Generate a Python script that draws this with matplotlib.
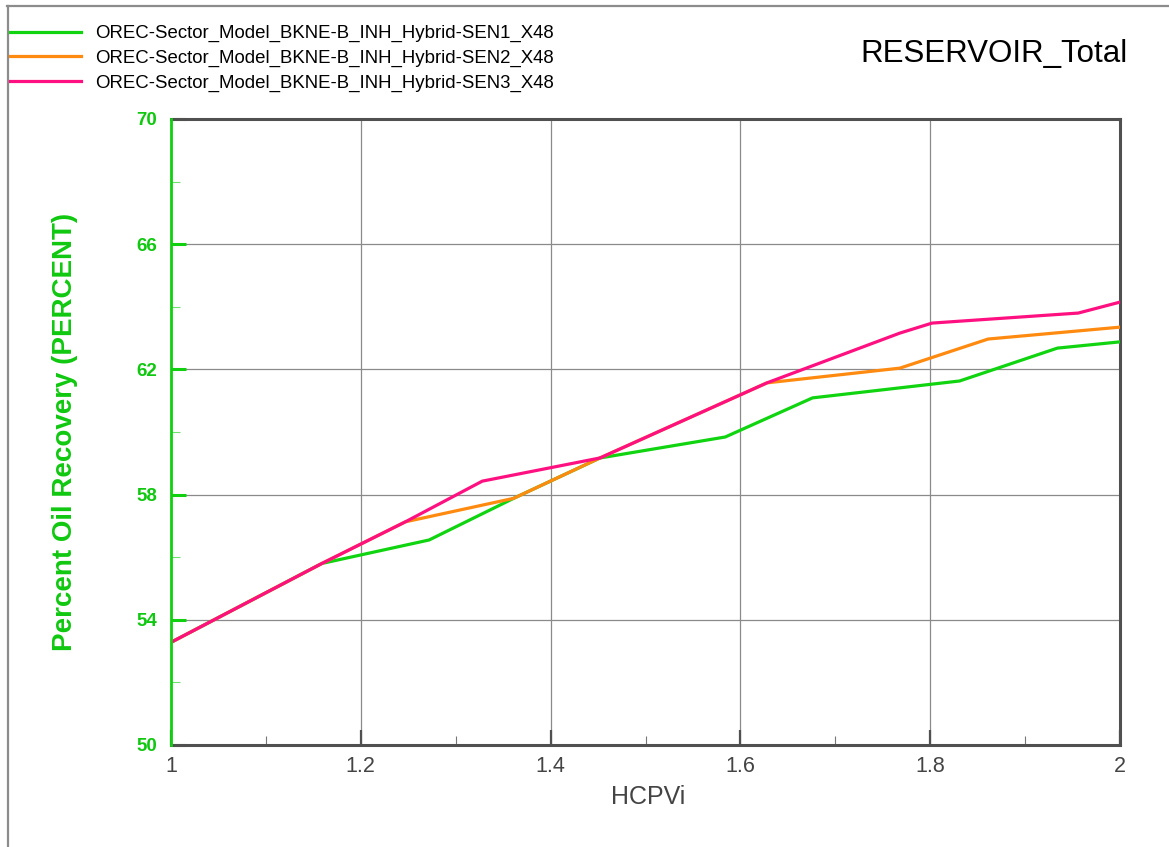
import matplotlib
matplotlib.use("Agg")
import matplotlib.pyplot as plt
from matplotlib.lines import Line2D
from matplotlib.ticker import MultipleLocator

plt.rcParams['font.family'] = ['Liberation Sans', 'DejaVu Sans']

# Recovery curves (HCPVi vs percent oil recovery)
sen1_x = [1.0, 1.159, 1.272, 1.361, 1.452, 1.584, 1.676, 1.831, 1.934, 2.0]
sen1_y = [53.28, 55.80, 56.55, 57.88, 59.17, 59.84, 61.09, 61.63, 62.68, 62.88]

sen2_x = [1.0, 1.159, 1.247, 1.361, 1.452, 1.628, 1.768, 1.861, 2.0]
sen2_y = [53.28, 55.80, 57.13, 57.88, 59.17, 61.57, 62.04, 62.97, 63.35]

sen3_x = [1.0, 1.159, 1.247, 1.328, 1.452, 1.628, 1.768, 1.802, 1.956, 2.0]
sen3_y = [53.28, 55.80, 57.13, 58.43, 59.17, 61.57, 63.16, 63.48, 63.80, 64.15]

labels = [
    "OREC-Sector_Model_BKNE-B_INH_Hybrid-SEN1_X48",
    "OREC-Sector_Model_BKNE-B_INH_Hybrid-SEN2_X48",
    "OREC-Sector_Model_BKNE-B_INH_Hybrid-SEN3_X48",
]
colors = ["#11d411", "#ff8a10", "#ff1080"]

x_ticks = [1, 1.2, 1.4, 1.6, 1.8, 2]
x_tick_labels = ["1", "1.2", "1.4", "1.6", "1.8", "2"]
y_ticks = [50, 54, 58, 62, 66, 70]

W, H = 1169, 847
fig = plt.figure(figsize=(W / 100, H / 100), dpi=100)
fig.patch.set_facecolor("white")

ax = fig.add_axes([171 / W, 1 - 745 / H, (1120 - 171) / W, (745 - 119) / H])

lw = 2.3
h1, = ax.plot(sen1_x, sen1_y, color=colors[0], lw=lw, zorder=3)
h2, = ax.plot(sen2_x, sen2_y, color=colors[1], lw=lw, zorder=4)
h3, = ax.plot(sen3_x, sen3_y, color=colors[2], lw=lw, zorder=5)

ax.set_xlim(1, 2)
ax.set_ylim(50, 70)

green = "#10d010"
dark = "#505050"

ax.set_xticks(x_ticks)
ax.set_xticklabels(x_tick_labels)
ax.xaxis.set_minor_locator(MultipleLocator(0.1))
ax.set_yticks(y_ticks)
ax.yaxis.set_minor_locator(MultipleLocator(2))

ax.grid(True, which="major", color="#8a8a8a", lw=0.9, zorder=1)

ax.tick_params(axis="x", which="major", direction="in", length=11, width=1.6,
               color=dark, labelsize=15.5, labelcolor="#444444", pad=8)
ax.tick_params(axis="x", which="minor", direction="in", length=6.5, width=0.8,
               color="#777777")
ax.tick_params(axis="y", which="major", direction="in", length=11, width=2.2,
               color=green, labelsize=13.5, labelcolor="#10c810", pad=10)
ax.tick_params(axis="y", which="minor", direction="in", length=6.5, width=0.8,
               color="#70e070")
for lab in ax.get_yticklabels():
    lab.set_fontweight("bold")

ax.spines["left"].set_color(green)
ax.spines["left"].set_linewidth(2.0)
for s in ("bottom", "top", "right"):
    ax.spines[s].set_color(dark)
    ax.spines[s].set_linewidth(2.2)
ax.spines["left"].set_zorder(6)

# axis titles
fig.text(65 / W, 1 - 432 / H, "Percent Oil Recovery (PERCENT)", rotation=90,
         ha="center", va="center", fontsize=20, fontweight="bold", color="#10c810")
fig.text(648 / W, 1 - 797 / H, "HCPVi", ha="center", va="center",
         fontsize=18, color="#444444")

# plot title
fig.text(1128 / W, 1 - 62 / H, "RESERVOIR_Total", ha="right", va="baseline",
         fontsize=22.5, color="black")

# legend
fig.legend([h1, h2, h3], labels, loc="upper left",
           bbox_to_anchor=(10 / W, 1 - 25 / H), frameon=False,
           fontsize=13.4, handlelength=3.8, handletextpad=0.75,
           labelspacing=0.4, borderpad=0, borderaxespad=0)

# outer frame lines
fig.add_artist(Line2D([7 / W, 1], [1 - 6 / H, 1 - 6 / H], color="#8c8c8c", lw=1.6,
                      transform=fig.transFigure))
fig.add_artist(Line2D([8 / W, 8 / W], [0, 1 - 6 / H], color="#8c8c8c", lw=1.6,
                      transform=fig.transFigure))

fig.savefig("out.png", dpi=100)
